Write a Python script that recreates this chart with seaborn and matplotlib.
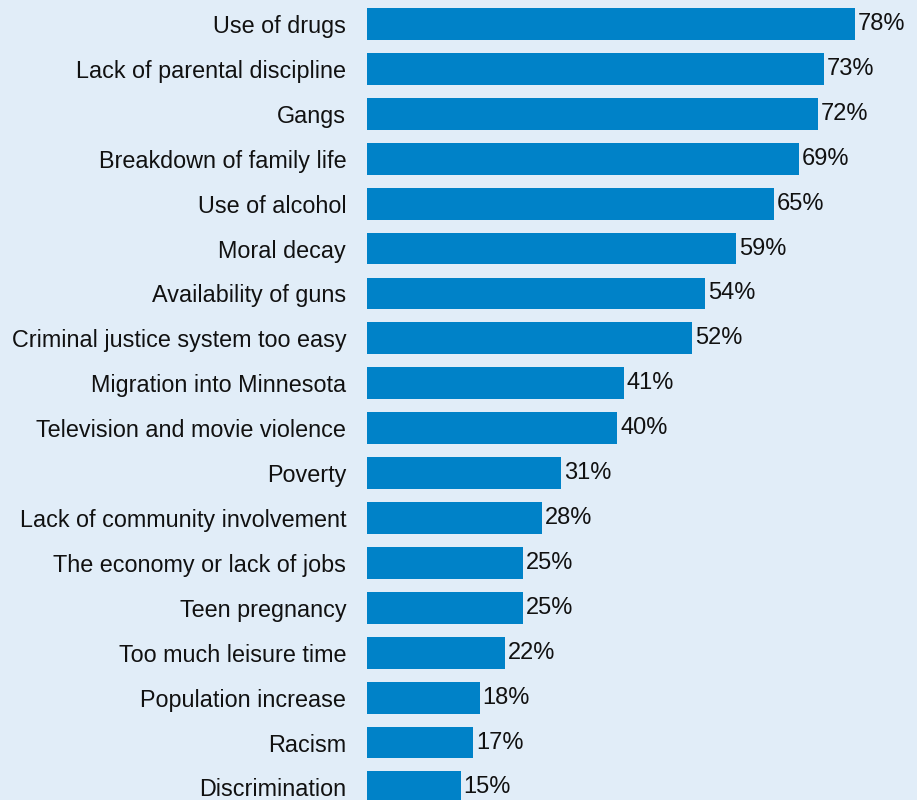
import matplotlib
matplotlib.use("Agg")
import matplotlib.pyplot as plt
import seaborn as sns
import pandas as pd

causes = [
    "Use of drugs",
    "Lack of parental discipline",
    "Gangs",
    "Breakdown of family life",
    "Use of alcohol",
    "Moral decay",
    "Availability of guns",
    "Criminal justice system too easy",
    "Migration into Minnesota",
    "Television and movie violence",
    "Poverty",
    "Lack of community involvement",
    "The economy or lack of jobs",
    "Teen pregnancy",
    "Too much leisure time",
    "Population increase",
    "Racism",
    "Discrimination",
]
percent = [78, 73, 72, 69, 65, 59, 54, 52, 41, 40, 31, 28, 25, 25, 22, 18, 17, 15]

df = pd.DataFrame({"cause": causes, "percent": percent})

bg = "#E1EDF8"
bar_color = "#0082C8"

sns.set_theme(style="white")
plt.rcParams["font.family"] = ["Liberation Sans", "DejaVu Sans"]

fig = plt.figure(figsize=(9.17, 8.0), dpi=100, facecolor=bg)
ax = fig.add_axes([367 / 917, 0.0, 1 - 367 / 917, 1.0])
ax.set_facecolor(bg)

sns.barplot(data=df, x="percent", y="cause", color=bar_color, width=0.71,
            saturation=1, linewidth=0, ax=ax, orient="h")

for i, v in enumerate(percent):
    ax.annotate(f"{v}%", xy=(v, i), xytext=(2, 0), textcoords="offset points",
                ha="left", va="center", fontsize=17, color="#111111")

ax.set_xlim(0, 87.9)
ax.set_ylim(17.28, -0.535)
ax.set_xlabel("")
ax.set_ylabel("")
ax.set_xticks([])
ax.tick_params(axis="y", length=0, pad=15, labelsize=16.8, labelcolor="#111111")
for s in ax.spines.values():
    s.set_visible(False)

fig.savefig("out.png", dpi=100, facecolor=bg)
